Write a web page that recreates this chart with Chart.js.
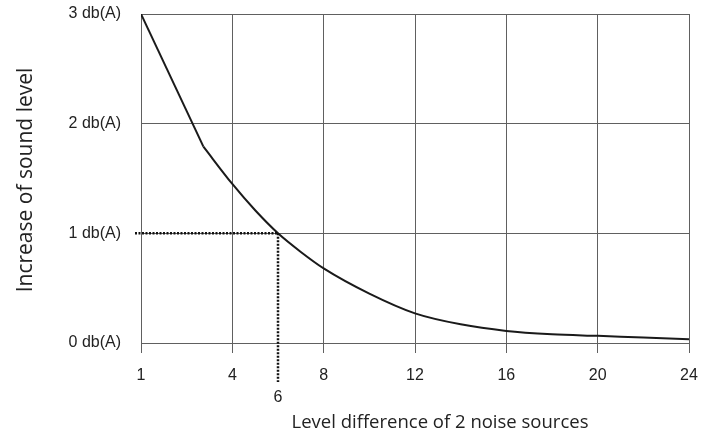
<!DOCTYPE html>
<html>
<head>
<meta charset="utf-8">
<script src="https://cdn.jsdelivr.net/npm/chart.js@4"></script>
<style>
  html, body { margin: 0; padding: 0; background: #fff; }
  #wrap { width: 708px; height: 434px; }
</style>
</head>
<body>
<div id="wrap"><canvas id="myChart" width="708" height="434"></canvas></div>
<script>
// Datos
const xTickLabels = [1, 4, 8, 12, 16, 20, 24];
const yTickValues = [0, 1, 2, 3];
const levelDiff = [1, 3.05, 4, 5, 6, 7, 8, 10, 12, 14, 16, 18, 20, 22, 24];
const increase = [3.0, 1.79, 1.45, 1.21, 1.0, 0.83, 0.68, 0.45, 0.27, 0.17, 0.11, 0.08, 0.065, 0.05, 0.035];
const straightUntil = 1; // el primer tramo (hasta el índice 1) es recto
const markX = 6;
const markY = 1;

const ctx = document.getElementById('myChart').getContext('2d');
let myChart;

// El eje x está espaciado por marcas: 1→4 ocupa lo mismo que 4→8
function toPos(x) {
    for (let i = 0; i < xTickLabels.length - 1; i++) {
        if (x <= xTickLabels[i + 1]) {
            return i + (x - xTickLabels[i]) / (xTickLabels[i + 1] - xTickLabels[i]);
        }
    }
    return xTickLabels.length - 1;
}

const points = levelDiff.map((x, i) => ({ x: toPos(x), y: increase[i] }));

const gridColor = '#606060';
const tickFont = { family: 'Liberation Sans, Arial', size: 16 };

// Líneas punteadas, etiqueta "6" y títulos de los ejes
const extrasPlugin = {
    id: 'extras',
    afterDatasetsDraw(chart) {
        const c = chart.ctx;
        const xs = chart.scales.x;
        const ys = chart.scales.y;
        const px = xs.getPixelForValue(toPos(markX));
        const py = ys.getPixelForValue(markY);
        c.save();
        c.strokeStyle = '#111';
        c.lineWidth = 2.5;
        c.setLineDash([2, 1.5]);
        c.beginPath();
        c.moveTo(chart.chartArea.left - 6, py);
        c.lineTo(px, py);
        c.moveTo(px, py);
        c.lineTo(px, chart.chartArea.bottom + 39);
        c.stroke();
        c.setLineDash([]);

        c.fillStyle = '#222';
        c.font = '16px "Liberation Sans", Arial';
        c.textAlign = 'center';
        c.textBaseline = 'middle';
        c.fillText(String(markX), px, 398);

        c.font = '18.5px "Open Sans"';
        c.textBaseline = 'alphabetic';
        c.fillText('Level difference of 2 noise sources', 440, 428);

        c.font = '21px "Open Sans"';
        c.translate(32, 180);
        c.rotate(-Math.PI / 2);
        c.fillText('Increase of sound level', 0, 0);
        c.restore();
    }
};

function initChart() {
    const lineStyle = {
        borderColor: '#1a1a1a',
        borderWidth: 2,
        pointRadius: 0,
        fill: false
    };
    myChart = new Chart(ctx, {
        type: 'line',
        data: {
            datasets: [
                Object.assign({ data: points.slice(0, straightUntil + 1), tension: 0 }, lineStyle),
                Object.assign({ data: points.slice(straightUntil), cubicInterpolationMode: 'monotone' }, lineStyle)
            ]
        },
        options: {
            responsive: false,
            animation: false,
            layout: { padding: 0, autoPadding: false },
            plugins: {
                legend: { display: false },
                tooltip: { enabled: false }
            },
            scales: {
                x: {
                    type: 'linear',
                    min: 0,
                    max: xTickLabels.length - 1,
                    afterBuildTicks: (scale) => {
                        scale.ticks = xTickLabels.map((v, i) => ({ value: i }));
                    },
                    afterFit: (scale) => {
                        scale.height = 91;
                        scale.paddingLeft = 0;
                        scale.paddingRight = 19;
                    },
                    ticks: {
                        autoSkip: false,
                        maxRotation: 0,
                        padding: 13,
                        color: '#222',
                        font: tickFont,
                        callback: (v) => xTickLabels[v]
                    },
                    grid: { color: gridColor, lineWidth: 1, drawTicks: true, tickLength: 10, tickColor: gridColor },
                    border: { display: true, color: gridColor }
                },
                y: {
                    min: 0,
                    max: 3,
                    afterBuildTicks: (scale) => {
                        scale.ticks = yTickValues.map(v => ({ value: v }));
                    },
                    afterFit: (scale) => {
                        scale.width = 141;
                        scale.paddingTop = 14;
                        scale.paddingBottom = 0;
                    },
                    ticks: {
                        padding: 20,
                        color: '#222',
                        font: tickFont,
                        callback: (v) => v + ' db(A)'
                    },
                    grid: { color: gridColor, lineWidth: 1, drawTicks: false },
                    border: { display: true, color: gridColor }
                }
            }
        },
        plugins: [extrasPlugin]
    });
}

initChart();
</script>
</body>
</html>
